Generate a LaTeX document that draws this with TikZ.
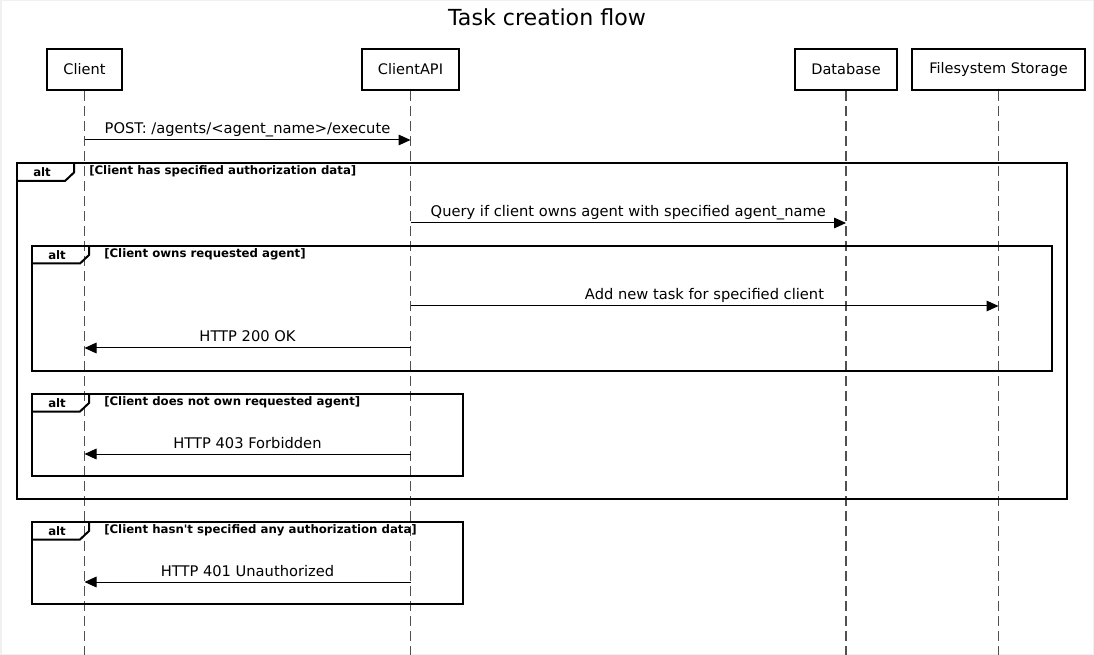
\documentclass[tikz,border=0pt]{standalone}
\usepackage{fontspec}
\setmainfont{DejaVu Sans}
\usetikzlibrary{arrows.meta,calc}
\definecolor{ink}{RGB}{0,0,0}
\definecolor{lifegray}{RGB}{80,80,80}
\definecolor{edgegray}{RGB}{240,240,240}
\tikzset{
  ttlfont/.style={font=\fontsize{16.6}{19}\selectfont, text=ink},
  actor/.style={draw=ink, fill=white, line width=1.5pt, minimum height=30.75pt,
    inner sep=0pt, font=\fontsize{10.9}{13}\selectfont, text=ink},
  life/.style={draw=lifegray, line width=1pt, dash pattern=on 7.5pt off 3.75pt},
  msg/.style={-{Triangle[length=9pt, width=8pt]}, line width=0.75pt, draw=ink},
  lbl/.style={midway, anchor=base, yshift=4.5pt, inner sep=0pt,
    font=\fontsize{11}{13}\selectfont, text=ink},
  frame/.style={draw=ink, line width=1.5pt},
  altlbl/.style={inner sep=0pt, font=\bfseries\fontsize{8.8}{10}\selectfont, text=ink},
  cond/.style={anchor=west, inner sep=0pt, font=\bfseries\fontsize{8.8}{10}\selectfont, text=ink},
  alttab/.pic={
    \draw[frame] (0,17.5) -- (48,17.5) -- (57,9) -- (57,0);
    \node[altlbl, anchor=west] (-lbl) at (16,9) {alt};
  },
}

\begin{document}
\begin{tikzpicture}[x=0.75pt,y=-0.75pt]
  \useasboundingbox (0,0) rectangle (1094,655);
  \draw[edgegray, line width=2.25pt, fill=white] (0,0) rectangle (1094,655);
  \node[ttlfont] (ttl) at (547,17) {Task creation flow};

  % participants
  \coordinate (bottom) at (0,655);
  \node[actor, minimum width=56.25pt] (client) at (84.5,69.5) {Client};
  \node[actor, minimum width=72.75pt] (api) at (410.5,69.5) {ClientAPI};
  \node[actor, minimum width=76.5pt] (db) at (846,69.5) {Database};
  \node[actor, minimum width=129.75pt] (fs) at (998.5,69.5) {Filesystem Storage};
  \foreach \p in {client,api,db,fs}
    \draw[life] (\p.south) -- (\p.south |- bottom);

  % message rows
  \coordinate (m1) at (0,140);
  \coordinate (m2) at (0,223);
  \coordinate (m3) at (0,306);
  \coordinate (m4) at (0,348);
  \coordinate (m5) at (0,454);
  \coordinate (m6) at (0,582);

  \draw[msg] (client |- m1) -- (api |- m1) node[lbl] {POST: /agents/<agent\_name>/execute};

  % alt: authorization data given
  \draw[frame] (17,163) rectangle (1067,499);
  \pic (a1) at (17,163.5) {alttab};
  \node[cond] (c1) at (89,171.5) {[Client has specified authorization data]};
  \draw[msg] (api |- m2) -- (db |- m2) node[lbl] {Query if client owns agent with specified agent\_name};

  \draw[frame] (32,246) rectangle (1052,371);
  \pic (a2) at (32,246) {alttab};
  \node[cond] (c2) at (104,254.5) {[Client owns requested agent]};
  \draw[msg] (api |- m3) -- (fs |- m3) node[lbl] {Add new task for specified client};
  \draw[msg] (api |- m4) -- (client |- m4) node[lbl] {HTTP 200 OK};

  \draw[frame] (32,394) rectangle (463,476);
  \pic (a3) at (32,394) {alttab};
  \node[cond] (c3) at (104,402.5) {[Client does not own requested agent]};
  \draw[msg] (api |- m5) -- (client |- m5) node[lbl] {HTTP 403 Forbidden};

  % alt: no authorization data
  \draw[frame] (32,522) rectangle (463,604);
  \pic (a4) at (32,522) {alttab};
  \node[cond] (c4) at (104,530.5) {[Client hasn\textquotesingle t specified any authorization data]};
  \draw[msg] (api |- m6) -- (client |- m6) node[lbl] {HTTP 401 Unauthorized};
\end{tikzpicture}
\end{document}
